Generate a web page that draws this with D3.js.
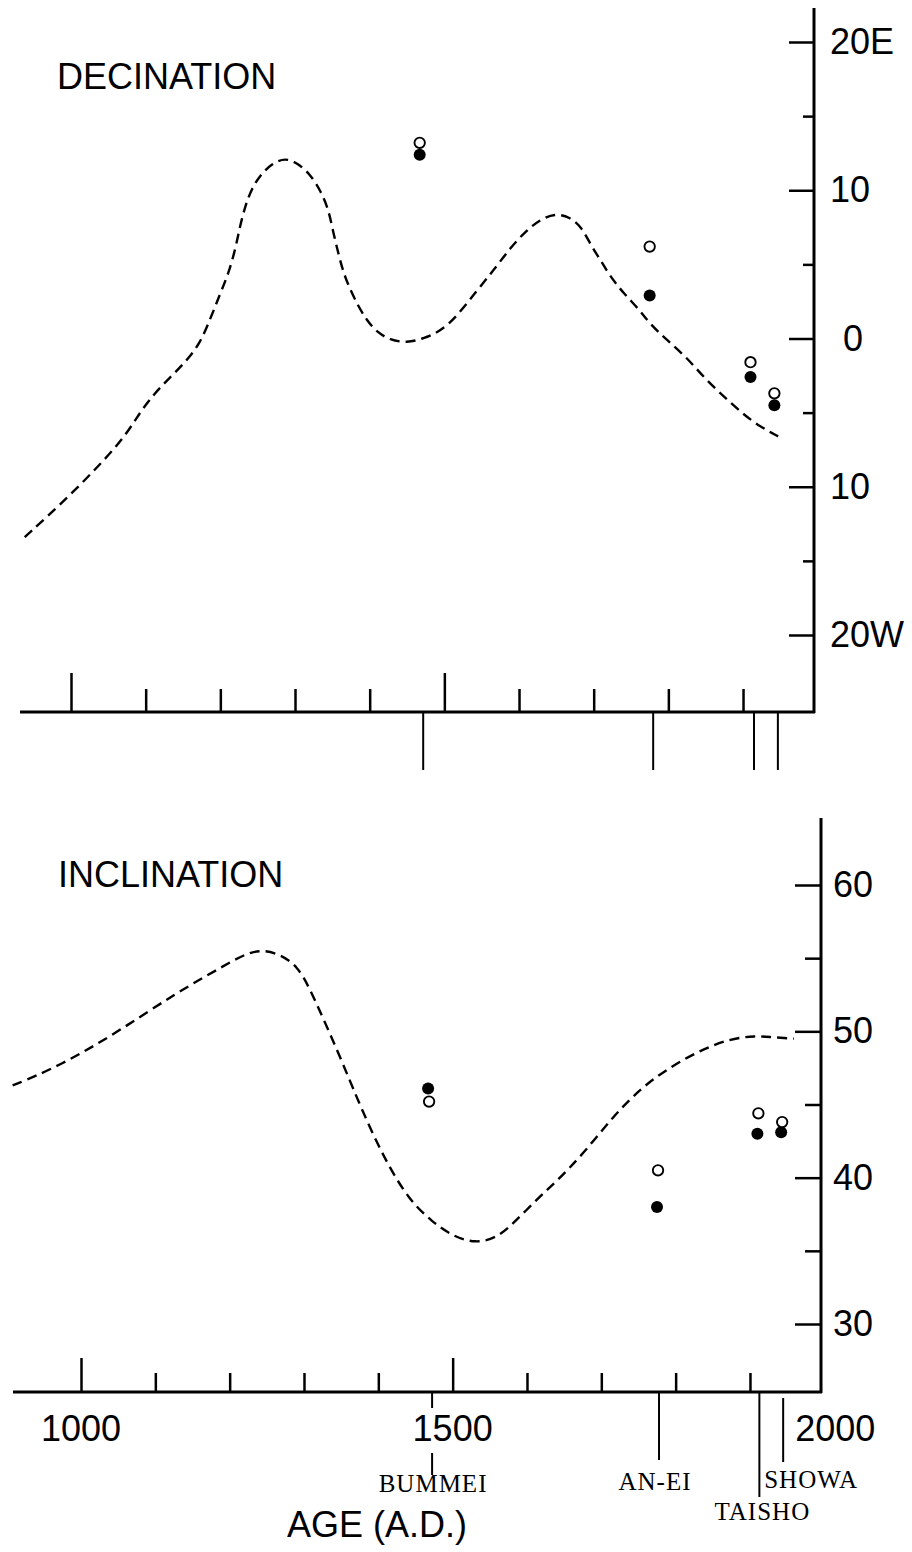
<!DOCTYPE html>
<meta charset="utf-8">
<script src="https://cdn.jsdelivr.net/npm/d3@7"></script>
<style>
    body { margin: 0; background: #fff; }
    .lab { font-family: "Liberation Sans", Arial, sans-serif; font-size: 36px; fill: #000; }
    .era { font-family: "Liberation Serif", "Times New Roman", serif; font-size: 25px; letter-spacing: 1px; fill: #000; }
</style>
<div id="chart"></div>
<script>
    // eruptions and their ages (A.D.)
    var eras = ["BUMMEI", "AN-EI", "TAISHO", "SHOWA"];
    var eraYears = [1471, 1779, 1914, 1946];

    // sample directions: declination (+ = east) and inclination, degrees
    var decOpen = [13.2, 6.2, -1.6, -3.7];
    var decFilled = [12.4, 2.9, -2.6, -4.5];
    var incOpen = [45.2, 40.5, 44.4, 43.8];
    var incFilled = [46.1, 38.0, 43.0, 43.1];

    // reference secular variation curves (dashed)
    var decCurveYears = [938, 1003, 1069, 1088, 1110, 1133, 1155, 1173, 1186, 1200, 1211, 1220, 1226, 1233, 1242,
        1253, 1269, 1287, 1304, 1320, 1334, 1345, 1351, 1358, 1365, 1374, 1385, 1396, 1409, 1427, 1450, 1472,
        1494, 1517, 1543, 1566, 1588, 1610, 1628, 1648, 1668, 1684, 1695, 1709, 1722, 1740, 1762, 1775, 1798,
        1825, 1847, 1874, 1900, 1923, 1947];
    var decCurve = [-13.4, -10.4, -6.9, -5.3, -3.8, -2.6, -1.5, -0.3, 1.25, 3.05, 4.4, 6.0, 7.5, 8.9, 10.1,
        11.0, 11.8, 12.2, 11.8, 11.1, 10.0, 8.7, 7.2, 5.75, 4.4, 3.3, 2.15, 1.25, 0.45, -0.1, -0.3, 0.0,
        0.45, 1.5, 3.2, 4.6, 6.1, 7.3, 8.0, 8.45, 8.2, 7.5, 6.4, 5.3, 4.2, 3.05, 1.9, 1.0, -0.1,
        -1.3, -2.6, -3.9, -5.1, -5.95, -6.6];
    var incCurveYears = [908, 970, 1048, 1127, 1190, 1234, 1268, 1292, 1307, 1331, 1354, 1378, 1409, 1441, 1472, 1500,
        1531, 1560, 1582, 1621, 1637, 1677, 1716, 1755, 1794, 1833, 1873, 1908, 1928, 1959];
    var incCurve = [46.3, 47.6, 49.9, 52.6, 54.4, 55.7, 55.3, 54.4, 53.0, 50.3, 47.6, 44.6, 41.2, 38.5, 37.0, 36.0,
        35.5, 35.9, 36.9, 38.9, 39.6, 41.7, 44.2, 46.2, 47.6, 48.7, 49.5, 49.7, 49.6, 49.5];

    // axis ticks
    var yearMajor = [1000, 1500];
    var yearMinor = [1100, 1200, 1300, 1400, 1600, 1700, 1800, 1900];
    var yearLabels = [1000, 1500, 2000];
    var decTicks = [20, 10, 0, -10, -20];
    var decTickLabels = ["20E", "10", "0", "10", "20W"];
    var decMinor = [15, 5, -5, -15];
    var incTicks = [60, 50, 40, 30];
    var incMinor = [55, 45, 35];

    var svg = d3.select("#chart")
        .append("svg")
        .attr("width", 912)
        .attr("height", 1552);

    // styles an axis group: thick black ticks, no domain path
    function styleAxis(g, w) {
        g.select(".domain").remove();
        g.selectAll("line").attr("stroke", "#000").attr("stroke-width", w);
        g.selectAll("text").attr("class", "lab").attr("fill", "#000");
        g.attr("font-size", null).attr("font-family", null);
    }

    function zip(a, b) { return a.map(function (v, i) { return [v, b[i]]; }); }

    // ---------------- DECLINATION ----------------
    var xTop = d3.scaleLinear().domain([1000, 2000]).range([71, 817.7]);
    var yDec = d3.scaleLinear().domain([-20, 20]).range([635, 42]);
    var top0 = 712, right0 = 814;

    // axis lines
    svg.append("line").attr("x1", 20).attr("x2", right0 + 1).attr("y1", top0).attr("y2", top0)
        .attr("stroke", "#000").attr("stroke-width", 3);
    svg.append("line").attr("x1", right0).attr("x2", right0).attr("y1", 8).attr("y2", top0 + 1)
        .attr("stroke", "#000").attr("stroke-width", 3);

    // right axis: labelled ticks and minor ticks
    svg.append("g").attr("transform", "translate(" + right0 + ",0)")
        .call(d3.axisRight(yDec).tickValues(decTicks).tickSizeInner(-25).tickSizeOuter(0).tickPadding(16)
            .tickFormat(function (d, i) { return decTickLabels[i]; }))
        .call(styleAxis, 2.5)
        .selectAll("text").attr("dx", function (d) { return d === 0 ? 13 : 0; });
    svg.append("g").attr("transform", "translate(" + right0 + ",0)")
        .call(d3.axisRight(yDec).tickValues(decMinor).tickSizeInner(-11).tickSizeOuter(0).tickFormat(""))
        .call(styleAxis, 2.5);

    // bottom axis: ticks pointing up, eruption marks pointing down
    svg.append("g").attr("transform", "translate(0," + top0 + ")")
        .call(d3.axisBottom(xTop).tickValues(yearMajor).tickSizeInner(-39).tickSizeOuter(0).tickFormat(""))
        .call(styleAxis, 2.5);
    svg.append("g").attr("transform", "translate(0," + top0 + ")")
        .call(d3.axisBottom(xTop).tickValues(yearMinor).tickSizeInner(-23).tickSizeOuter(0).tickFormat(""))
        .call(styleAxis, 2.5);
    svg.append("g").attr("transform", "translate(0," + top0 + ")")
        .call(d3.axisBottom(xTop).tickValues(eraYears).tickSizeInner(58).tickSizeOuter(0).tickFormat(""))
        .call(styleAxis, 2);

    // curve
    svg.append("path")
        .datum(zip(decCurveYears, decCurve))
        .attr("fill", "none").attr("stroke", "#000").attr("stroke-width", 2.4)
        .attr("stroke-dasharray", "10,6")
        .attr("d", d3.line().curve(d3.curveBasis)
            .x(function (d) { return xTop(d[0]); }).y(function (d) { return yDec(d[1]); }));

    // samples
    svg.append("g").selectAll("circle").data(zip(eraYears, decFilled)).enter().append("circle")
        .attr("cx", function (d) { return xTop(d[0]) - 3; }).attr("cy", function (d) { return yDec(d[1]); })
        .attr("r", 6).attr("fill", "#000");
    svg.append("g").selectAll("circle").data(zip(eraYears, decOpen)).enter().append("circle")
        .attr("cx", function (d) { return xTop(d[0]) - 3; }).attr("cy", function (d) { return yDec(d[1]); })
        .attr("r", 5.2).attr("fill", "#fff").attr("stroke", "#000").attr("stroke-width", 1.9);

    svg.append("text").attr("class", "lab").attr("x", 57).attr("y", 89).text("DECINATION");

    // ---------------- INCLINATION ----------------
    var xBot = d3.scaleLinear().domain([1000, 2000]).range([81, 824.3]);
    var yInc = d3.scaleLinear().domain([30, 60]).range([1324, 885]);
    var bot0 = 1392, right1 = 821;

    svg.append("line").attr("x1", 13).attr("x2", right1 + 1).attr("y1", bot0).attr("y2", bot0)
        .attr("stroke", "#000").attr("stroke-width", 3);
    svg.append("line").attr("x1", right1).attr("x2", right1).attr("y1", 818).attr("y2", bot0 + 1)
        .attr("stroke", "#000").attr("stroke-width", 3);

    svg.append("g").attr("transform", "translate(" + right1 + ",0)")
        .call(d3.axisRight(yInc).tickValues(incTicks).tickSizeInner(-26).tickSizeOuter(0).tickPadding(12))
        .call(styleAxis, 2.5);
    svg.append("g").attr("transform", "translate(" + right1 + ",0)")
        .call(d3.axisRight(yInc).tickValues(incMinor).tickSizeInner(-16).tickSizeOuter(0).tickFormat(""))
        .call(styleAxis, 2.5);

    svg.append("g").attr("transform", "translate(0," + bot0 + ")")
        .call(d3.axisBottom(xBot).tickValues(yearMajor).tickSizeInner(-34).tickSizeOuter(0).tickFormat(""))
        .call(styleAxis, 2.5);
    svg.append("g").attr("transform", "translate(0," + bot0 + ")")
        .call(d3.axisBottom(xBot).tickValues(yearMinor).tickSizeInner(-19).tickSizeOuter(0).tickFormat(""))
        .call(styleAxis, 2.5);

    // year labels
    svg.append("g").selectAll("text").data(yearLabels).enter().append("text")
        .attr("class", "lab")
        .attr("x", function (d) { return d === 2000 ? xBot(d) - 29 : xBot(d); })
        .attr("y", 1441)
        .attr("text-anchor", function (d) { return d === 2000 ? "start" : "middle"; })
        .text(function (d) { return d; });

    // eruption marks below the axis (Bummei one is broken by the 1500 label)
    var eraSegs = [[bot0, 1408], [1453, 1475]];
    svg.append("g").selectAll("line").data(eraSegs).enter().append("line")
        .attr("x1", xBot(eraYears[0]) + 1).attr("x2", xBot(eraYears[0]) + 1)
        .attr("y1", function (d) { return d[0]; }).attr("y2", function (d) { return d[1]; })
        .attr("stroke", "#000").attr("stroke-width", 2);
    var eraBottom = [null, 1460, 1497, 1462];
    var eraTopGap = [null, bot0, bot0, bot0 + 6];
    svg.append("g").selectAll("line").data(eraYears.slice(1)).enter().append("line")
        .attr("x1", function (d) { return xBot(d) - 1; }).attr("x2", function (d) { return xBot(d) - 1; })
        .attr("y1", function (d, i) { return eraTopGap[i + 1]; })
        .attr("y2", function (d, i) { return eraBottom[i + 1]; })
        .attr("stroke", "#000").attr("stroke-width", 2);

    // eruption names
    var eraLabelY = [1492, 1490, 1520, 1488];
    svg.append("g").selectAll("text").data(eras).enter().append("text")
        .attr("class", "era")
        .attr("x", function (d, i) { return xBot(eraYears[i]) + (d === "SHOWA" ? 27 : (d === "AN-EI" ? -5 : 2)); })
        .attr("y", function (d, i) { return eraLabelY[i]; })
        .attr("text-anchor", "middle")
        .text(function (d) { return d; });

    // curve
    svg.append("path")
        .datum(zip(incCurveYears, incCurve))
        .attr("fill", "none").attr("stroke", "#000").attr("stroke-width", 2.4)
        .attr("stroke-dasharray", "10,6")
        .attr("d", d3.line().curve(d3.curveBasis)
            .x(function (d) { return xBot(d[0]); }).y(function (d) { return yInc(d[1]); }));

    // samples
    svg.append("g").selectAll("circle").data(zip(eraYears, incFilled)).enter().append("circle")
        .attr("cx", function (d) { return xBot(d[0]) - 3; }).attr("cy", function (d) { return yInc(d[1]); })
        .attr("r", 6).attr("fill", "#000");
    svg.append("g").selectAll("circle").data(zip(eraYears, incOpen)).enter().append("circle")
        .attr("cx", function (d) { return xBot(d[0]) - 2; }).attr("cy", function (d) { return yInc(d[1]); })
        .attr("r", 5.2).attr("fill", "#fff").attr("stroke", "#000").attr("stroke-width", 1.9);

    svg.append("text").attr("class", "lab").attr("x", 58).attr("y", 887).text("INCLINATION");
    svg.append("text").attr("class", "lab").attr("x", 377).attr("y", 1537).attr("text-anchor", "middle").text("AGE (A.D.)");
</script>
